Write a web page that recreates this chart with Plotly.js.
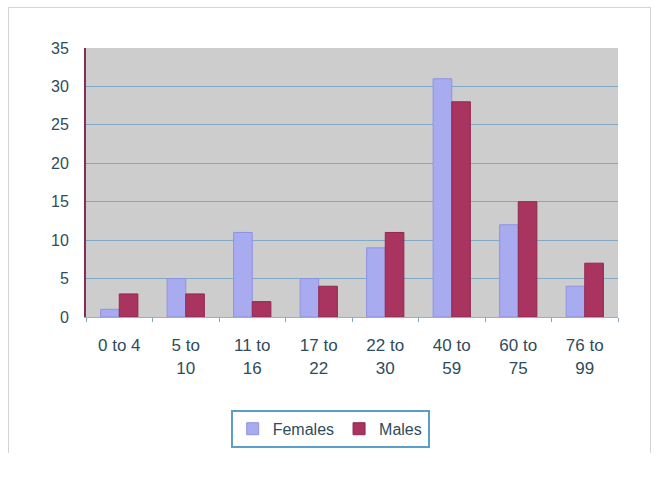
<!DOCTYPE html>
<html>
<head>
<meta charset="utf-8">
<script src="https://cdn.plot.ly/plotly-3.0.1.min.js"></script>
<style>
  html, body { margin: 0; padding: 0; background: #ffffff; }
  #frame { position: absolute; left: 8px; top: 7px; width: 641px; height: 445px; border: 1px solid #d4d4d4; border-bottom: none; }
  #chart { position: absolute; left: 0; top: 0; width: 660px; height: 477px; }
</style>
</head>
<body>
<div id="frame"></div>
<div id="chart"></div>
<script>
const categories = ["0 to 4", "5 to<br>10", "11 to<br>16", "17 to<br>22", "22 to<br>30", "40 to<br>59", "60 to<br>75", "76 to<br>99"];
const females = [1, 5, 11, 5, 9, 31, 12, 4];
const males = [3, 3, 2, 4, 11, 28, 15, 7];
const yTicks = [0, 5, 10, 15, 20, 25, 30, 35];

const traces = [
  {
    type: "bar", name: "Females", x: categories, y: females,
    marker: { color: "#a9abf0", line: { color: "#8f93e0", width: 1 } }
  },
  {
    type: "bar", name: "Males", x: categories, y: males,
    marker: { color: "#a8345f", line: { color: "#93284f", width: 1 } }
  }
];

const textColor = "#2f4c5c";
const layout = {
  width: 660, height: 477,
  margin: { l: 86, r: 42, t: 48, b: 160 },
  paper_bgcolor: "rgba(0,0,0,0)",
  plot_bgcolor: "#cdcdcd",
  barmode: "group",
  bargap: 0.44,
  bargroupgap: 0,
  font: { family: "Liberation Sans, Arial, sans-serif", size: 16, color: textColor },
  showlegend: true,
  legend: {
    orientation: "h", x: 0.459, xanchor: "center", xref: "paper",
    y: -0.345, yanchor: "top",
    bordercolor: "#5a9fc8", borderwidth: 2, bgcolor: "#ffffff",
    font: { size: 16, color: textColor },
    itemwidth: 30, tracegroupgap: 0
  },
  xaxis: {
    type: "category",
    tickson: "boundaries",
    ticks: "outside", ticklen: 4, tickcolor: "#7aa8c8",
    showline: true, linecolor: "#8ab4d0", linewidth: 1,
    showgrid: false,
    tickfont: { size: 17, color: textColor },
    tickangle: 0,
    ticklabelstandoff: 13
  },
  yaxis: {
    range: [0, 35],
    tickvals: yTicks,
    ticktext: yTicks.map(String),
    showgrid: true, gridcolor: "#7fa9c4", gridwidth: 1,
    showline: true, linecolor: "#8a2a55", linewidth: 2,
    ticks: "", zeroline: false,
    tickfont: { size: 16, color: textColor },
    ticklabelstandoff: 12
  }
};

Plotly.newPlot("chart", traces, layout, { displayModeBar: false, staticPlot: true });
</script>
</body>
</html>
